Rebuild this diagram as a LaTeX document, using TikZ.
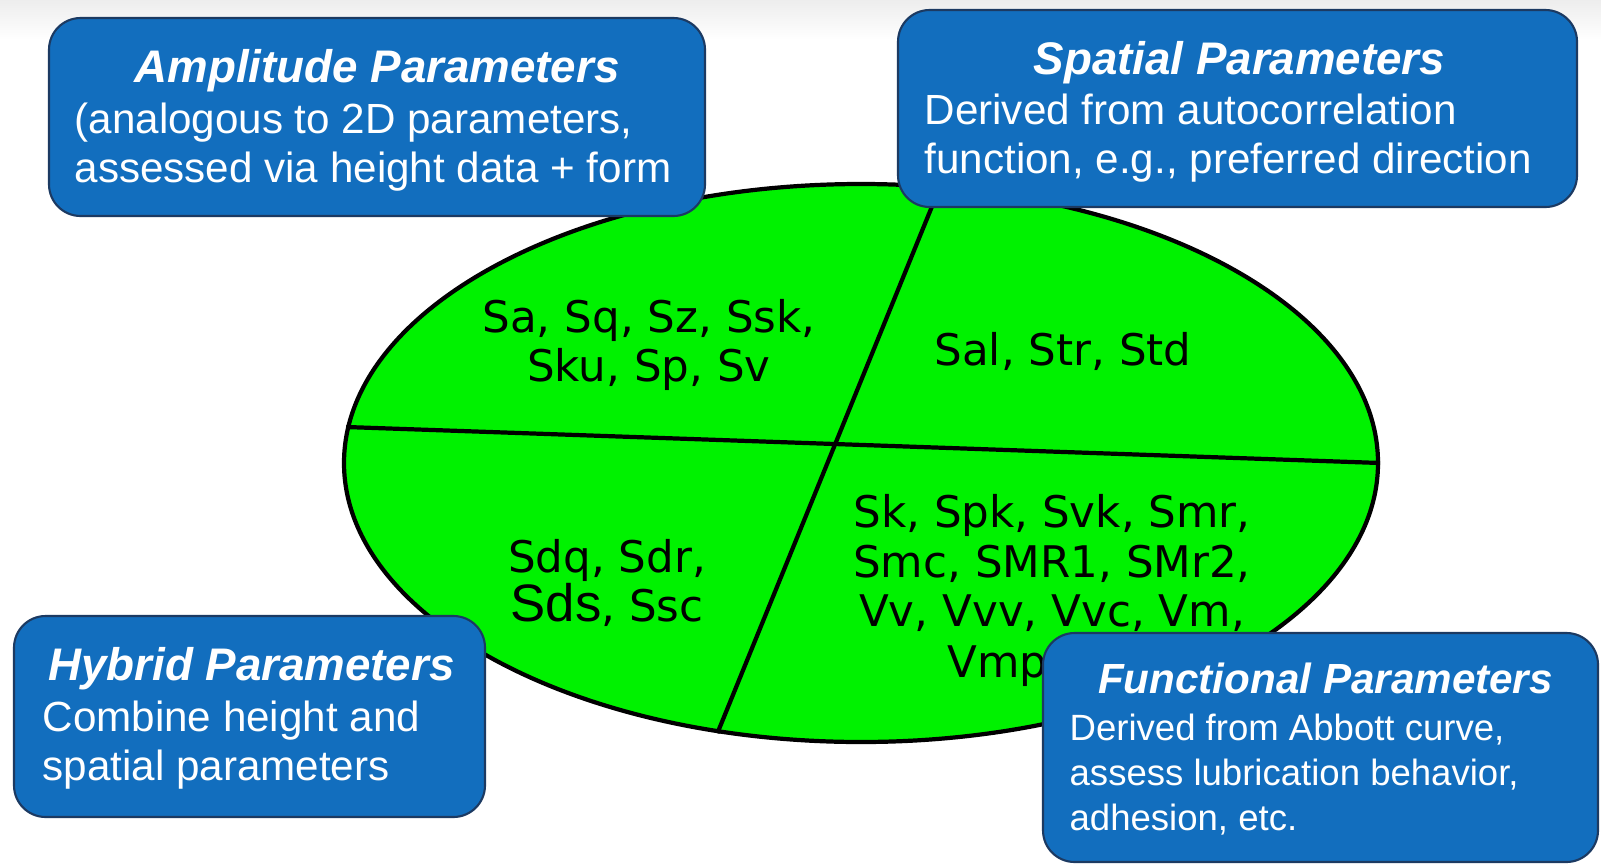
\documentclass[tikz,border=0pt]{standalone}
\usepackage{fontspec}
\setmainfont{Liberation Sans}
\newfontfamily\dejavu{DejaVu Sans}
\usepackage{tikz}
\usetikzlibrary{shapes.geometric}
\usetikzlibrary{calc}

\definecolor{boxblue}{RGB}{18,110,190}
\definecolor{boxedge}{RGB}{28,58,98}
\definecolor{lime}{RGB}{0,242,0}

\begin{document}
\begin{tikzpicture}[x=0.1mm, y=-0.1mm,
        groupbox/.style={draw=boxedge, line width=0.6pt, fill=boxblue, rounded corners=9pt, inner sep=0pt},
        boxtitle/.style={text=white, anchor=base, inner sep=0pt, font=\fontsize{13}{15}\selectfont\bfseries\itshape},
        boxbody/.style={text=white, anchor=north west, inner sep=0pt, align=left, font=\fontsize{12}{14}\selectfont},
        paramlist/.style={inner sep=0pt, align=center, font=\dejavu\fontsize{12.4}{14.2}\selectfont},
        divider/.style={line width=1.2pt}]

        \useasboundingbox (0,0) rectangle (1601,865);

        \fill[white] (0,0) rectangle (1601,865);
        \shade[top color=black!7, bottom color=white] (0,0) rectangle (1601,40);

        \node[ellipse, draw, line width=1.2pt, fill=lime, inner sep=0pt, minimum width=103.4mm, minimum height=55.8mm] (oval) at (861,463) {};

        \draw[divider] (oval.176.5) -- (oval.0.2);
        \draw[divider] (oval.74) -- (oval.242.3);

        \node[paramlist] (amplist) at (649,345) {Sa, Sq, Sz, Ssk,\\Sku, Sp, Sv};
        \node[paramlist] (spatlist) at (1063,351) {Sal, Str, Std};
        \node[paramlist] (hyblist) at (607,583) {Sdq, Sdr,\\{\rmfamily\fontsize{15}{14.2}\selectfont Sds}, Ssc};
        \node[paramlist] (funclist) at (1052,563) {Sk, Spk, Svk, Smr,\\Smc, SMR1, SMr2,\\Vv, Vvv, Vvc, Vm,};
        \node[paramlist, anchor=base west] (vmp) at (947,677) {Vmp};

        \node[groupbox, minimum width=65.6mm, minimum height=19.8mm] (amp) at (377,117) {};
        \node[boxtitle] (amptitle) at ($(amp.north)+(0,66)$) {Amplitude Parameters};
        \node[boxbody] (ampbody) at ($(amp.north west)+(26,85)$) {(analogous to 2D parameters,\\assessed via height data + form};

        \node[groupbox, minimum width=67.9mm, minimum height=19.7mm] (spatial) at (1237.5,108.5) {};
        \node[boxtitle] (spattitle) at ($(spatial.north)+(2,66)$) {Spatial Parameters};
        \node[boxbody] (spatbody) at ($(spatial.north west)+(27,84)$) {Derived from autocorrelation\\function, e.g., preferred direction};

        \node[groupbox, minimum width=47.1mm, minimum height=20.1mm] (hybrid) at (249.5,716.5) {};
        \node[boxtitle] (hybtitle) at ($(hybrid.north)+(2,66)$) {Hybrid Parameters};
        \node[boxbody] (hybbody) at ($(hybrid.north west)+(29,85)$) {Combine height and\\spatial parameters};

        \node[groupbox, minimum width=55.5mm, minimum height=22.9mm] (functional) at (1320.5,747.5) {};
        \node[boxtitle, font=\fontsize{12}{14}\selectfont\bfseries\itshape] (functitle) at ($(functional.north)+(5,62)$) {Functional Parameters};
        \node[boxbody, font=\fontsize{10.4}{12.8}\selectfont] (funcbody) at ($(functional.north west)+(27,81)$) {Derived from Abbott curve,\\assess lubrication behavior,\\adhesion, etc.};

\end{tikzpicture}
\end{document}
